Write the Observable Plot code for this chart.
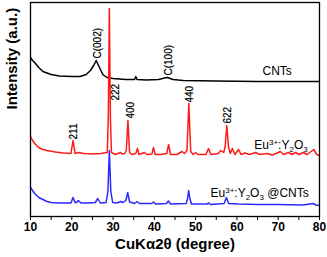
<!DOCTYPE html>
<html>
<head>
<meta charset="utf-8">
<script src="https://cdn.jsdelivr.net/npm/d3@7"></script>
<script src="https://cdn.jsdelivr.net/npm/@observablehq/plot@0.6"></script>
<style>
  html, body { margin: 0; padding: 0; background: #fff; }
  #chart { width: 327px; height: 257px; }
</style>
</head>
<body>
<div id="chart"></div>
<script>
// ---- Data (2θ in degrees, intensity in arbitrary units with vertical offsets) ----
const cntTheta = [10, 10.5, 11, 12, 13, 15, 17, 20, 22, 23.5, 24.5, 25.3, 25.9, 26.6, 27.5, 28.5, 30, 33, 35.2, 35.5, 35.8, 38, 41, 42.5, 43.2, 44.5, 47, 55, 65, 80];
const cntInt   = [159, 156, 154, 149, 145, 142, 140.5, 140, 140, 142, 146, 151, 156, 150, 142, 139, 138, 137, 137, 140, 137, 136.5, 137, 138.5, 139, 137, 136, 135.5, 135, 135];

const eyTheta = [10, 10.5, 11, 12, 13, 14, 16, 18, 19.8, 20.3, 20.8, 21.6, 23, 25, 27, 28.6, 28.85, 29.1, 29.35, 29.6, 30.5, 31.8, 32.2, 32.8, 33.2, 33.6, 34.0, 34.6, 35.5, 35.9, 36.3, 37.6, 38.2, 39.4, 39.8, 40.2, 41.5, 43.0, 43.45, 43.9, 45.5, 46.7, 47.3, 47.9, 48.35, 48.8, 49.4, 50.0, 50.6, 52.5, 53.1, 53.7, 55.5, 56.1, 56.8, 57.15, 57.55, 57.95, 58.4, 58.9, 59.5, 60.4, 61, 62, 63, 64.5, 65.5, 67.4, 68.5, 69.5, 70.5, 71.3, 72.5, 73.3, 74.2, 75, 76.1, 77, 78.6, 79.3, 80];
const eyInt   = [80, 76, 73, 69, 67, 66, 64.5, 63.5, 63, 76, 63, 64, 63, 62.5, 63, 64, 100, 208, 100, 64, 62, 64, 62.5, 63, 66, 96, 64, 62, 63, 68, 62, 64, 62, 62.5, 69, 62, 62, 63, 72, 62, 62, 65, 63, 66, 113, 65, 62, 64, 62, 62, 68, 62, 63, 66, 64, 70, 91, 70, 63, 68, 62, 67, 62, 63.5, 62, 64, 62, 63, 61.5, 63, 65, 62, 64, 62, 64, 62, 64, 62, 67, 62, 61];

const ecTheta = [10, 10.5, 11, 12, 13, 14, 15, 17, 19.8, 20.3, 20.8, 21.2, 21.6, 22.2, 24, 25.7, 26.3, 26.9, 28.3, 28.75, 29.1, 29.45, 29.9, 31, 31.8, 32.4, 33.1, 33.55, 34.0, 35.2, 35.8, 36.4, 39.3, 39.8, 40.3, 42.9, 43.4, 43.9, 47.7, 48.05, 48.3, 48.6, 49.0, 52.8, 53.2, 53.6, 56.9, 57.45, 58.0, 60.4, 65, 70, 76, 78.5, 79.1, 80];
const ecInt   = [29, 26, 23, 19, 17, 15, 14, 13.5, 13.5, 19, 14, 14, 16, 13.5, 13.5, 14, 18, 13.5, 14, 25, 66, 25, 14, 13.5, 15, 14, 16, 24, 14.5, 13, 15, 13, 13, 14.5, 12.5, 13, 15.5, 12.5, 13, 18, 26, 18, 12.5, 12.5, 13.5, 12, 13, 19, 13, 12.5, 12, 12, 11.5, 13, 11.5, 11];

const seriesNames  = ["CNTs", "Eu3+:Y2O3", "Eu3+:Y2O3 @CNTs"];
const seriesColors = ["#000000", "#ff1a1a", "#2a2aff"];

const peakLabels = ["C(002)", "C(100)", "222", "400", "440", "622", "211"];
const peakLabelX = [26.2, 43.4, 30.6, 34.2, 48.5, 57.7, 20.6];
const peakLabelY = [158, 141, 116, 98, 114, 93, 77];

const seriesLabelX = [66.2, 64.2, 53.6];
const seriesLabelY = [145, 71.5, 23.5];

const xTicks = [10, 15, 20, 25, 30, 35, 40, 45, 50, 55, 60, 65, 70, 75, 80];

// ---- Build tables ----
const toRows = (xs, ys) => xs.map((x, i) => ({x, y: ys[i]}));
const cntRows = toRows(cntTheta, cntInt);
const eyRows  = toRows(eyTheta, eyInt);
const ecRows  = toRows(ecTheta, ecInt);
const peakRows = peakLabels.map((t, i) => ({t, x: peakLabelX[i], y: peakLabelY[i]}));
const serRows  = seriesNames.map((t, i) => ({t, x: seriesLabelX[i], y: seriesLabelY[i]}));

const font = "'Liberation Sans', Arial, Helvetica, sans-serif";

const chart = Plot.plot({
  width: 327,
  height: 257,
  marginLeft: 30,
  marginRight: 8,
  marginTop: 2,
  marginBottom: 41,
  style: {fontFamily: font, background: "#fff", color: "#000"},
  x: {domain: [10, 80]},
  y: {domain: [0, 214], axis: null},
  marks: [
    Plot.lineY(ecRows, {x: "x", y: "y", stroke: seriesColors[2], strokeWidth: 1.5}),
    Plot.lineY(cntRows, {x: "x", y: "y", stroke: seriesColors[0], strokeWidth: 1.5}),
    Plot.lineY(eyRows, {x: "x", y: "y", stroke: seriesColors[1], strokeWidth: 1.5}),
    Plot.text(peakRows, {x: "x", y: "y", text: "t", rotate: -90, textAnchor: "start", fontSize: 10, fill: "#000", stroke: "#000", strokeWidth: 0.2}),
    Plot.text(serRows, {x: "x", y: "y", text: "t", textAnchor: "start", fontSize: 12, fill: "#000"}),
    Plot.frame({stroke: "#000", strokeWidth: 1.3}),
    Plot.axisX({ticks: xTicks, tickSize: 4, tickPadding: 2, tickFormat: d => d % 10 === 0 ? String(d) : "", fontSize: 12, fontWeight: "bold", label: null}),
    Plot.text(["CuKα2θ (degree)"], {frameAnchor: "bottom", dy: 32, fontSize: 15, fontWeight: "bold", fill: "#000"}),
    Plot.text(["Intensity (a.u.)"], {frameAnchor: "left", dx: -18, rotate: -90, fontSize: 15, fontWeight: "bold", fill: "#000"})
  ]
});

// Render superscript / subscript parts of the Eu3+:Y2O3 labels as real text
d3.select(chart).selectAll("text").each(function() {
  const el = this;
  const txt = el.textContent;
  if (!txt.startsWith("Eu3+:Y2O3")) return;
  const rest = txt.slice("Eu3+:Y2O3".length);
  while (el.firstChild) el.removeChild(el.firstChild);
  const parts = [
    {s: "Eu"},
    {s: "3+", size: 8, dy: -4},
    {s: ":Y", dy: 4},
    {s: "2", size: 8, dy: 3},
    {s: "O", dy: -3},
    {s: "3", size: 8, dy: 3},
    {s: rest, dy: -3}
  ];
  for (const p of parts) {
    if (!p.s) continue;
    const ts = document.createElementNS("http://www.w3.org/2000/svg", "tspan");
    ts.textContent = p.s;
    if (p.size) ts.setAttribute("font-size", p.size);
    if (p.dy) ts.setAttribute("dy", p.dy);
    el.appendChild(ts);
  }
});

document.getElementById("chart").appendChild(chart);
</script>
</body>
</html>
